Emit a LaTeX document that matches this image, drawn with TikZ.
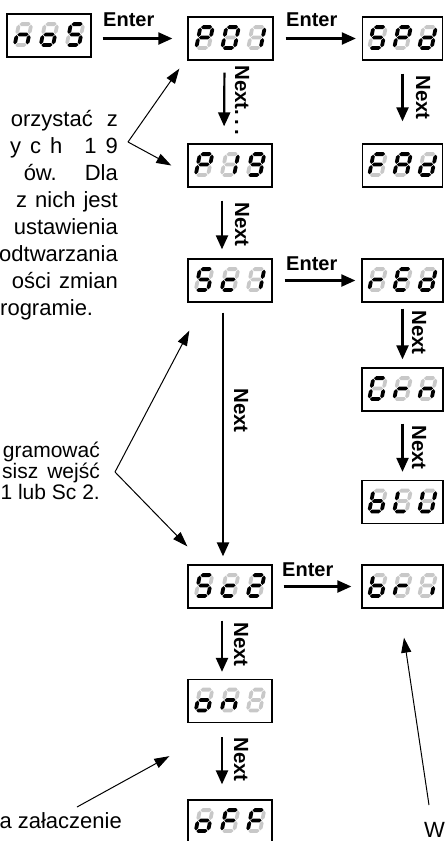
\documentclass[tikz,border=0pt]{standalone}
\usepackage{fontspec}
\setmainfont{Liberation Sans}
\usetikzlibrary{arrows.meta}
\definecolor{segoff}{RGB}{200,200,200}
\makeatletter
\newcommand{\sgf}[3]{\in@{#1}{#2}\ifin@\def\segclr{black}\else\def\segclr{segoff}\fi\fill[fill=\segclr] #3;}
\makeatother
\newcommand{\sevdig}[3]{%
 \begin{scope}[shift={(#1,#2)}, xslant=0.2]
 \sgf{a}{#3}{(-5.6,-10.4) -- (-3.7,-12.3) -- (3.7,-12.3) -- (5.6,-10.4) -- (3.7,-8.5) -- (-3.7,-8.5) -- cycle}
 \sgf{b}{#3}{(6.2,-9.8) -- (8.1,-7.9) -- (8.1,-2.5) -- (6.2,-0.6) -- (4.3,-2.5) -- (4.3,-7.9) -- cycle}
 \sgf{c}{#3}{(6.2,0.6) -- (8.1,2.5) -- (8.1,7.9) -- (6.2,9.8) -- (4.3,7.9) -- (4.3,2.5) -- cycle}
 \sgf{d}{#3}{(-5.6,10.4) -- (-3.7,8.5) -- (3.7,8.5) -- (5.6,10.4) -- (3.7,12.3) -- (-3.7,12.3) -- cycle}
 \sgf{e}{#3}{(-6.2,0.6) -- (-4.3,2.5) -- (-4.3,7.9) -- (-6.2,9.8) -- (-8.1,7.9) -- (-8.1,2.5) -- cycle}
 \sgf{f}{#3}{(-6.2,-9.8) -- (-4.3,-7.9) -- (-4.3,-2.5) -- (-6.2,-0.6) -- (-8.1,-2.5) -- (-8.1,-7.9) -- cycle}
 \sgf{g}{#3}{(-5.6,0) -- (-3.7,-1.9) -- (3.7,-1.9) -- (5.6,0) -- (3.7,1.9) -- (-3.7,1.9) -- cycle}
 \end{scope}}
% #1 name, #2 x, #3 y, #4 width, #5 pitch, #6-#8 digits
\newcommand{\disp}[8]{%
 \node[dispbox, minimum width=#4] (#1) at (#2,#3) {};
 \sevdig{#2-#5}{#3-1}{#6}
 \sevdig{#2}{#3-1}{#7}
 \sevdig{#2+#5}{#3-1}{#8}}
\begin{document}
\begin{tikzpicture}[x=1pt,y=-1pt,
  dispbox/.style={draw, line width=1.3pt, minimum height=43pt, inner sep=0pt},
  bigarrow/.style={line width=2.2pt, -{Triangle[length=14pt,width=12pt]}},
  thinarrow/.style={line width=1pt, -{Triangle[length=15pt,width=10pt]}},
  enterlab/.style={font=\bfseries\fontsize{20}{20}\selectfont, inner sep=0pt, anchor=base west},
  nextlab/.style={font=\bfseries\fontsize{20.5}{20.5}\selectfont, inner sep=0pt, anchor=base west, rotate=-90},
  body/.style={font=\fontsize{22}{26}\selectfont, inner sep=0pt, anchor=base east},
  bodyb/.style={font=\fontsize{21}{25}\selectfont, inner sep=0pt, anchor=base east}]
\useasboundingbox (0,0) rectangle (445,841);
\clip (0,0) rectangle (445,841);
% displays
\disp{nos}{49}{35.5}{84pt}{26}{ceg}{cdeg}{acdfg}
\disp{P01}{230.5}{38.5}{85pt}{26}{abefg}{abcdef}{bc}
\disp{SPd}{402.5}{38.5}{80pt}{25}{acdfg}{abefg}{bcdeg}
\disp{P19}{230}{165.5}{84pt}{26}{abefg}{bc}{abcdfg}
\disp{FAd}{402.5}{165.5}{80pt}{25}{aefg}{abcefg}{bcdeg}
\disp{Sc1}{230}{280.5}{84pt}{26}{acdfg}{deg}{bc}
\disp{rEd}{402.5}{280.5}{81pt}{25}{eg}{adefg}{bcdeg}
\disp{Grn}{402.5}{389.5}{81pt}{25}{acdef}{eg}{ceg}
\disp{bLU}{402.5}{502}{81pt}{25}{cdefg}{def}{bcdef}
\disp{Sc2}{230}{586.5}{84pt}{26}{acdfg}{deg}{abdeg}
\disp{br1}{402.5}{586.5}{81pt}{25}{cdefg}{eg}{c}
\disp{on8}{230}{701}{84pt}{26}{cdeg}{ceg}{}
\disp{oFF}{230}{821.5}{84pt}{26}{cdeg}{aefg}{aefg}
% Enter arrows
\draw[bigarrow, shorten <=11pt, shorten >=15pt] (nos.east |- P01.west) -- (P01.west);
\draw[bigarrow, shorten <=12pt, shorten >=6pt] (P01.east) -- (SPd.west);
\draw[bigarrow, shorten <=12pt, shorten >=6pt] (Sc1.east) -- (rEd.west);
\draw[bigarrow, shorten <=11pt, shorten >=10pt] (Sc2.east) -- (br1.west);
\node[enterlab] (e1) at (103,26) {Enter};
\node[enterlab] (e2) at (286,26) {Enter};
\node[enterlab] (e3) at (286,270) {Enter};
\node[enterlab] (e4) at (282,576) {Enter};
% Next arrows
\draw[bigarrow, shorten <=12pt, shorten >=17pt] ([xshift=-6pt]P01.south) -- ([xshift=-6pt]P19.north);
\draw[bigarrow, shorten <=13pt, shorten >=9pt] ([xshift=-8pt]P19.south) -- ([xshift=-8pt]Sc1.north);
\draw[bigarrow, shorten <=10pt, shorten >=8pt] ([xshift=-7pt]Sc1.south) -- ([xshift=-7pt]Sc2.north);
\draw[bigarrow, shorten <=12pt, shorten >=7pt] ([xshift=-8pt]Sc2.south) -- ([xshift=-8pt]on8.north);
\draw[bigarrow, shorten <=14pt, shorten >=15pt] ([xshift=-8pt]on8.south) -- ([xshift=-8pt]oFF.north);
\draw[bigarrow, shorten <=13pt, shorten >=22pt] (SPd.south) -- (FAd.north);
\draw[bigarrow, shorten <=6pt, shorten >=8pt] (rEd.south) -- (Grn.north);
\draw[bigarrow, shorten <=12pt, shorten >=8pt] (Grn.south) -- (bLU.north);
\node[nextlab] (n1) at (235,65) {Next.\kern4pt.\kern4pt.};
\node[nextlab] (n2) at (235,202) {Next};
\node[nextlab] (n3) at (234,388) {Next};
\node[nextlab] (n4) at (234,622) {Next};
\node[nextlab] (n5) at (234,737) {Next};
\node[nextlab] (n6) at (416,75) {Next};
\node[nextlab] (n7) at (412,310) {Next};
\node[nextlab] (n8) at (412,425) {Next};
% annotation arrows
\coordinate (v1) at (128,142);
\draw[thinarrow] (v1) -- ([shift={(-8,8)}]P01.south west);
\draw[thinarrow] (v1) -- ([shift={(-16,0)}]P19.west);
\coordinate (v2) at (115,472);
\draw[thinarrow] (v2) -- ([shift={(2,28)}]Sc1.south west);
\draw[thinarrow] (v2) -- ([shift={(0,-18)}]Sc2.north west);
\coordinate (t3) at (77,807);
\draw[thinarrow] (t3) -- ([shift={(-18,33)}]on8.south west);
\coordinate (t4) at (429,805);
\draw[thinarrow] (t4) -- ([shift={(1.5,29)}]br1.south);
% texts
\node[body] (p1) at (118,126) {orzystać\hspace{14pt}z};
\node[body] (p2) at (118,153) {y\hspace{9pt}c\hspace{9pt}h\hspace{22pt}1\hspace{9pt}9};
\node[body] (p3) at (118,180) {ów.\hspace{28pt}Dla};
\node[body] (p4) at (118,207) {z\hspace{8pt}nich\hspace{8pt}jest};
\node[body] (p5) at (118,234) {ustawienia};
\node[body] (p6) at (118,261) {odtwarzania};
\node[body] (p7) at (118,288) {ości\hspace{8pt}zmian};
\node[body, anchor=base west] (p8) at (0,315) {rogramie.};
\node[bodyb] (q1) at (100,457) {gramować};
\node[bodyb] (q2) at (100,478) {sisz\hspace{9pt}wejść};
\node[bodyb] (q3) at (100,499) {1 lub Sc 2.};
\node[body] (r1) at (122,828) {a załaczenie};
\node[body, anchor=base west] (w1) at (424,837) {W};
\end{tikzpicture}
\end{document}
